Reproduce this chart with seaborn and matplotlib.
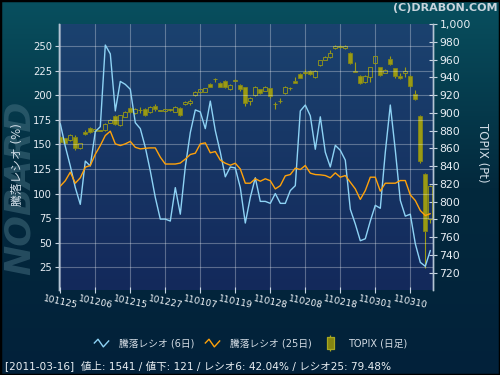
import numpy as np
import pandas as pd
import matplotlib
matplotlib.use("Agg")
import matplotlib.pyplot as plt
from matplotlib.colors import LinearSegmentedColormap
from matplotlib.lines import Line2D
from matplotlib.path import Path
from matplotlib.patches import Rectangle
from matplotlib.ticker import StrMethodFormatter
from matplotlib import font_manager
import seaborn as sns

# 騰落レシオ (%) 2010-11-25 .. 2011-03-16, one value per trading day
ratio6 = [171, 148, 128, 106, 89, 133, 128, 163, 168, 251, 242, 184, 214, 211, 206,
          172, 166, 147, 123, 96, 74, 74, 72, 106, 79,
          127, 162, 185, 183, 166, 194, 164, 142, 117, 127, 126, 106, 70, 96, 116,
          92, 92, 90, 100, 90, 90, 103, 108, 184, 190,
          179, 145, 178, 142, 127, 149, 144, 134, 84, 69, 52, 54, 72, 88, 85,
          142, 190, 144, 93, 77, 79, 49, 30, 26, 42.04]
ratio25 = [107.5, 113, 121.7, 110.5, 116, 126.8, 128.5, 140, 148.8, 159, 163.4, 150.5,
           148.8, 150.5, 153, 147, 145.4, 146, 146.4, 146.4, 137, 130, 130, 130, 131,
           135, 139.7, 141, 150.5, 151.5, 141.4, 142.7, 134, 130.8, 128.8, 130.8, 125,
           110.5, 110.5, 115, 112.5, 115, 113, 104.7, 108, 118, 119.3, 125.8, 124.4, 128.5,
           120.7, 119.3, 119, 118.3, 116, 121, 116.6, 118.3, 111.5, 104.7, 94, 103,
           116.6, 116.6, 102.4, 110.5, 110.5, 110.5, 113.2, 113.2, 98.6, 92.9, 82.7, 77.6, 79.48]

# TOPIX daily candles
topix_open = [873.1, 871.2, 869.4, 872.4, 860, 878.7, 882.9, 879.5, 880, 880.6, 888.9, 896.4,
              886.2, 895.6, 905, 900.1, 903, 904.3, 901.3, 907.6, 902.4, 901.6, 903.1, 901.3, 905,
              909.9, 910.7, 920, 923.4, 923.8, 932.4, 937.7, 933.9, 936.2, 926.4, 936.2, 931.3,
              928.7, 913.6, 920, 926.4, 925, 927.5, 909.5, 913.2, 922, 927.5, 936.2, 943.7, 944.8,
              947.4, 940.7, 953.8, 959.5, 962.5, 973.3, 974.4, 972.6, 967, 946.8, 941.8, 934.3,
              940.7, 955.7, 951.2, 945.2, 960.6, 950, 941.4, 944.4, 941.4, 921.2, 896.4, 831, 780]
topix_high = [874, 872, 876, 875, 866, 880.6, 884.4, 882, 881, 888, 893, 897,
              898, 902, 906, 905, 906.1, 905, 907.5, 909.9, 903.5, 904.5, 904, 907.5, 906,
              913, 915, 924.5, 927, 928, 933, 939.6, 934.5, 937, 932, 937.5, 932,
              929.5, 918, 930, 927, 930, 928, 912.5, 916.3, 930, 929, 940.7, 944.5, 949,
              948, 948, 960, 964, 971, 976.3, 976, 976, 968, 957.6, 943, 942.5,
              952, 964.5, 952, 949, 963.5, 950.5, 945, 952, 942, 925.5, 897, 832, 819]
topix_low = [866, 865.5, 868.5, 858, 859, 875, 877.6, 879, 879.5, 880, 888, 886,
             885, 895, 900, 899, 899.4, 896, 900, 902.4, 901.5, 901, 902.5, 900.5, 896,
             909, 909, 919, 922.5, 923, 928.5, 935, 929, 928, 925.5, 935.5, 925,
             908, 909, 919, 921, 924, 917, 904, 911, 921, 926, 933.5, 939, 942.6,
             942, 939, 953, 959, 962, 971.5, 973, 972, 955, 945.5, 932, 933,
             935, 955, 941.5, 944.5, 954, 939, 938, 940, 929, 914.5, 843, 725, 776]
topix_close = [867.5, 866.4, 875, 860, 865.6, 876.1, 878.7, 881.4, 880.5, 887.4, 891.9, 887.4,
               897.5, 901.3, 901.3, 904.3, 903.5, 897.5, 906.9, 904.6, 902.9, 903.9, 903.4, 906.9, 897.5,
               912.5, 913.3, 923.8, 926.4, 927.5, 929.4, 938.2, 929.4, 928.7, 931.3, 936.6, 926.4,
               910.7, 916.3, 928.7, 921.9, 929.4, 919.3, 910, 913.8, 929.4, 928, 934, 939.6, 945.6,
               943.3, 947, 959.5, 963.2, 967, 975.6, 974.8, 975.2, 956.5, 946.2, 933.9, 941.8,
               951.2, 964, 942.6, 948.2, 955, 941.4, 938.8, 947, 930.5, 915.2, 846, 766.7, 817.6]

tick_labels = ["101125", "101206", "101215", "101227", "110107", "110119",
               "110128", "110208", "110218", "110301", "110310"]

legend_labels = ["騰落レシオ (6日)", "騰落レシオ (25日)", "TOPIX (日足)"]
info_text = "[2011-03-16]  値上: 1541 / 値下: 121 / レシオ6: 42.04% / レシオ25: 79.48%"

BLUE = "#8ed3f5"
ORANGE = "#ffa20a"
OLIVE = "#9a9a14"
OLIVE_EDGE = "#8c8c10"
LIGHT = "#c8d4e0"

sns.set_theme(style="ticks")
plt.rcParams["font.family"] = ["DejaVu Sans", "Noto Sans CJK JP"]
plt.rcParams["axes.unicode_minus"] = False

n = len(ratio6)
df = pd.DataFrame({"day": np.arange(n), "r6": ratio6, "r25": ratio25})
ohlc = pd.DataFrame({"open": topix_open, "high": topix_high,
                     "low": topix_low, "close": topix_close})
ohlc["day"] = np.arange(n)

fig = plt.figure(figsize=(5, 3.75), dpi=100)
fig.patch.set_facecolor("#032a3c")

# background of the whole figure
bg = fig.add_axes([0, 0, 1, 1], zorder=-10)
grad = np.linspace(0, 1, 256).reshape(-1, 1)
bg.imshow(grad, cmap=LinearSegmentedColormap.from_list("fig_bg", ["#08505f", "#03293d", "#02213a"]),
          aspect="auto", extent=(0, 1, 0, 1))
bg.set_xlim(0, 1)
bg.set_ylim(0, 1)
bg.axis("off")
bg.add_patch(Rectangle((0, 0), 1, 1, fill=False, ec="black", lw=2.5,
                       transform=bg.transAxes, clip_on=False))

names = {f.name for f in font_manager.fontManager.ttflist}
if "Liberation Sans Narrow" in names:
    wm_font, wm_size = "Liberation Sans Narrow", 34
else:
    wm_font, wm_size = "DejaVu Sans", 26
bg.text(0.04, 0.50, "NOBARD", rotation=90, ha="center", va="center",
        fontsize=wm_size, fontweight="bold", style="italic", family=wm_font,
        color="#4f7a8a", alpha=0.45)

# main plot area
ax = fig.add_axes([0.117, 0.2267, 0.748, 0.7093])
ax.imshow(grad, cmap=LinearSegmentedColormap.from_list("plot_bg", ["#1b426f", "#13295b"]),
          aspect="auto", extent=(0, 1, 0, 1), transform=ax.transAxes, zorder=-1)
ax.patch.set_visible(False)

# candles (TOPIX, right scale)
lo = np.minimum(ohlc["open"], ohlc["close"])
hi = np.maximum(ohlc["open"], ohlc["close"])
height = np.maximum(hi - lo, 0.6)
up = (ohlc["close"] >= ohlc["open"]).values
ax.vlines(ohlc["day"], ohlc["low"], lo, color=OLIVE, lw=0.8, zorder=2)
ax.vlines(ohlc["day"], hi, ohlc["high"], color=OLIVE, lw=0.8, zorder=2)
ax.bar(ohlc["day"][~up], height[~up], bottom=lo[~up], width=0.8,
       color=OLIVE, edgecolor=OLIVE_EDGE, lw=0.5, zorder=3)
ax.bar(ohlc["day"][up], height[up], bottom=lo[up], width=0.8,
       facecolor="none", edgecolor=OLIVE, lw=0.6, zorder=3)

# ratio lines (left scale)
ax2 = ax.twinx()
ax.yaxis.tick_right()
ax2.yaxis.tick_left()
sns.lineplot(data=df, x="day", y="r6", ax=ax2, color=BLUE, lw=1.0)
sns.lineplot(data=df, x="day", y="r25", ax=ax2, color=ORANGE, lw=1.0)
ax2.set_xlabel("")
ax2.set_ylabel("")

ax.set_xlim(-0.36, 74.44)
ax.set_ylim(700.4, 1000)
ax2.set_ylim(1.9, 272.4)

ax.set_yticks(np.arange(720, 1001, 20))
ax.yaxis.set_major_formatter(StrMethodFormatter("{x:,.0f}"))
ax2.set_yticks(np.arange(25, 251, 25))
ax.set_xticks(np.arange(0, n, 7))
ax.set_xticklabels(tick_labels, rotation=-12, ha="center")
ax.set_xlabel("")

ax.grid(axis="x", color="white", alpha=0.3, lw=0.8)
ax.grid(axis="y", visible=False)
ax2.grid(axis="y", color="white", alpha=0.3, lw=0.8)
ax2.grid(axis="x", visible=False)

for a in (ax, ax2):
    a.spines["top"].set_visible(False)
    a.spines["bottom"].set_visible(False)
    for s in ("left", "right"):
        a.spines[s].set_color("#b4c4d4")
        a.spines[s].set_linewidth(1.0)

ax.tick_params(axis="y", right=True, left=False, labelright=True, labelleft=False,
               direction="inout", length=6, width=0.8, color=LIGHT,
               labelcolor="#e8eef4", labelsize=7.8, pad=2)
ax.tick_params(axis="x", bottom=True, direction="inout", length=4, width=0.8,
               color=LIGHT, labelcolor="#f0f4f8", labelsize=6.6, pad=1)
ax2.tick_params(axis="y", left=True, right=False, labelleft=True, labelright=False,
                direction="out", length=3, width=0.8, color=LIGHT,
                labelcolor="#e8eef4", labelsize=7.2, pad=1.5)

# axis titles
fig.text(17 / 500, 1 - 164.5 / 375, "騰落レシオ (%)", rotation=90, ha="center", va="center",
         fontsize=8.5, color="#d0dce6")
fig.text(482 / 500, 1 - 152.5 / 375, "TOPIX (Pt)", rotation=270, ha="center", va="center",
         fontsize=8.5, color="#d0dce6")
fig.text(0.994, 1 - 8 / 375, "(C)DRABON.COM", ha="right", va="center",
         fontsize=8, fontweight="bold", color="#c8d4dc")

# legend
zig = Path([(-0.5, 0.0), (-0.23, 0.28), (0.12, -0.22), (0.5, 0.2)],
           [Path.MOVETO, Path.LINETO, Path.LINETO, Path.LINETO])
candle_icon = Path([(-0.21, -0.33), (0.21, -0.33), (0.21, 0.33), (-0.21, 0.33), (-0.21, -0.33),
                    (0, 0.33), (0, 0.5), (0, -0.33), (0, -0.5)],
                   [Path.MOVETO, Path.LINETO, Path.LINETO, Path.LINETO, Path.CLOSEPOLY,
                    Path.MOVETO, Path.LINETO, Path.MOVETO, Path.LINETO])
h6 = Line2D([], [], ls="none", marker=zig, markersize=11, mfc="none", mec=BLUE, mew=1.0)
h25 = Line2D([], [], ls="none", marker=zig, markersize=11, mfc="none", mec=ORANGE, mew=1.0)
hc = Line2D([], [], ls="none", marker=candle_icon, markersize=12,
            mfc="#858510", mec="#a8a820", mew=0.9)
fig.legend([h6, h25, hc], legend_labels, loc="center", bbox_to_anchor=(0.5, 1 - 343 / 375),
           ncol=3, frameon=False, fontsize=7, labelcolor="#d4dce4",
           handlelength=1.7, handletextpad=1.0, columnspacing=1.0)

fig.text(0.01, 1 - 366 / 375, info_text, ha="left", va="center",
         fontsize=7.6, color="#e8eef2")

fig.savefig("out.png", dpi=100, facecolor=fig.get_facecolor())
